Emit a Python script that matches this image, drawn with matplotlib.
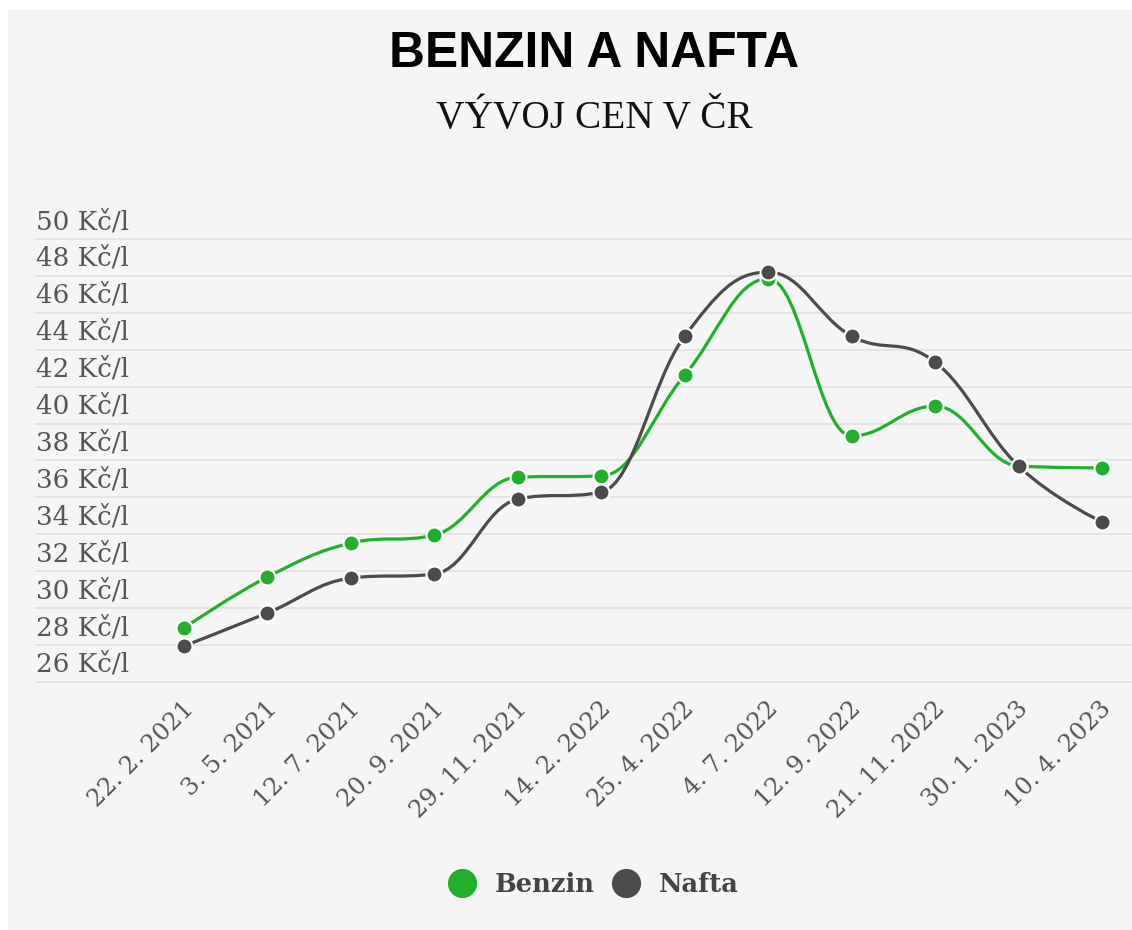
import matplotlib
matplotlib.use("Agg")
import matplotlib.pyplot as plt
from matplotlib.path import Path
from matplotlib.patches import PathPatch, Rectangle
from matplotlib.lines import Line2D
import matplotlib.transforms as mtransforms

# ---------------- data ----------------
dates = ["22. 2. 2021", "3. 5. 2021", "12. 7. 2021", "20. 9. 2021", "29. 11. 2021",
         "14. 2. 2022", "25. 4. 2022", "4. 7. 2022", "12. 9. 2022", "21. 11. 2022",
         "30. 1. 2023", "10. 4. 2023"]
benzin = [28.93, 31.69, 33.53, 33.96, 37.10, 37.16, 42.63, 47.85, 39.33, 40.95, 37.70, 37.60]
nafta = [27.95, 29.74, 31.63, 31.85, 35.91, 36.29, 44.74, 48.21, 44.74, 43.33, 37.70, 34.67]
y_ticks = [26, 28, 30, 32, 34, 36, 38, 40, 42, 44, 46, 48, 50]
y_tick_labels = [f"{v} Kč/l" for v in y_ticks]
series_names = ["Benzin", "Nafta"]

GREEN = "#21af2c"
GRAY = "#4b4b4b"
BG = "#f5f5f5"
TXT = "#555555"

W, H = 1132, 930
fig = plt.figure(figsize=(W / 100, H / 100), dpi=100, facecolor="white")
fig.patches.append(Rectangle((8 / W, 0), 1 - 8 / W, 1 - 10 / H, transform=fig.transFigure,
                             facecolor=BG, edgecolor="none", zorder=-10))

left_px, right_px = 36, 1132
top_px, bot_px = 239, 682
ax = fig.add_axes([left_px / W, 1 - bot_px / H, (right_px - left_px) / W, (bot_px - top_px) / H])
ax.set_facecolor("none")
for s in ax.spines.values():
    s.set_visible(False)

# x scale: index 0 at 184px, index 11 at 1102px
ppu = (1102 - 184) / 11
ax.set_xlim(-(184 - left_px) / ppu, 11 + (right_px - 1102) / ppu)
ax.set_ylim(26, 50)


def hc_spline(xs, ys, smoothing=1.5):
    n = len(xs)
    lc = [(xs[i], ys[i]) for i in range(n)]
    rc = list(lc)
    d = smoothing + 1
    for i in range(1, n - 1):
        x, y = xs[i], ys[i]
        lx, ly = xs[i - 1], ys[i - 1]
        nx, ny = xs[i + 1], ys[i + 1]
        lcx = (smoothing * x + lx) / d
        lcy = (smoothing * y + ly) / d
        rcx = (smoothing * x + nx) / d
        rcy = (smoothing * y + ny) / d
        if rcx != lcx:
            corr = ((rcy - lcy) * (rcx - x)) / (rcx - lcx) + y - rcy
            lcy += corr
            rcy += corr
        if lcy > ly and lcy > y:
            lcy = max(ly, y)
            rcy = 2 * y - lcy
        elif lcy < ly and lcy < y:
            lcy = min(ly, y)
            rcy = 2 * y - lcy
        if rcy > ny and rcy > y:
            rcy = max(ny, y)
            lcy = 2 * y - rcy
        elif rcy < ny and rcy < y:
            rcy = min(ny, y)
            lcy = 2 * y - rcy
        lc[i] = (lcx, lcy)
        rc[i] = (rcx, rcy)
    verts = [(xs[0], ys[0])]
    codes = [Path.MOVETO]
    for i in range(1, n):
        verts += [rc[i - 1], lc[i], (xs[i], ys[i])]
        codes += [Path.CURVE4] * 3
    return Path(verts, codes)


# grid lines
for v in y_ticks:
    ax.axhline(v, color="#e4e4e4", lw=1.4, zorder=0, clip_on=False)

xs = list(range(len(dates)))
for vals, col, z in [(benzin, GREEN, 3), (nafta, GRAY, 5)]:
    ax.add_patch(PathPatch(hc_spline(xs, vals), facecolor="none", edgecolor=col,
                           lw=2.3, zorder=z, capstyle="round", clip_on=False))
    ax.plot(xs, vals, linestyle="none", marker="o", markersize=11.5, markerfacecolor=col,
            markeredgecolor="white", markeredgewidth=1.5, zorder=z + 1, clip_on=False)

# y labels (above grid lines, left aligned)
ytrans = mtransforms.offset_copy(ax.get_yaxis_transform(), fig=fig, x=0, y=10, units="dots")
for v, lab in zip(y_ticks, y_tick_labels):
    ax.text(0, v, lab, transform=ytrans, ha="left", va="baseline",
            fontsize=18.8, family="DejaVu Serif", color=TXT)
ax.set_yticks([])

ax.set_xticks(xs)
ax.set_xticklabels(dates, rotation=45, ha="right", va="center", rotation_mode="anchor",
                   fontsize=17.5, family="DejaVu Serif", color=TXT)
ax.tick_params(axis="x", length=0, pad=17)
shift = mtransforms.ScaledTranslation(6 / 100, 0, fig.dpi_scale_trans)
for lab in ax.get_xticklabels():
    lab.set_transform(lab.get_transform() + shift)

# titles
cx = 594 / W
fig.text(cx, 1 - 67 / H, "BENZIN A NAFTA", ha="center", va="baseline",
         fontsize=35.8, fontweight="bold", family="Liberation Sans", color="#000000")
fig.text(cx, 1 - 128 / H, "VÝVOJ CEN V ČR", ha="center", va="baseline",
         fontsize=28.3, family="Liberation Serif", color="#111111")

# legend
handles = [Line2D([], [], linestyle="none", marker="o", markersize=20, markerfacecolor=c,
                  markeredgecolor=c) for c in (GREEN, GRAY)]
fig.legend(handles, series_names, loc="center", bbox_to_anchor=(cx, 1 - 884 / H), ncol=2,
           frameon=False, handlelength=1.0, handletextpad=0.8, columnspacing=0.7,
           prop={"family": "DejaVu Serif", "weight": "bold", "size": 18.5},
           labelcolor="#444444")

fig.savefig("out.png", dpi=100, facecolor=fig.get_facecolor())
